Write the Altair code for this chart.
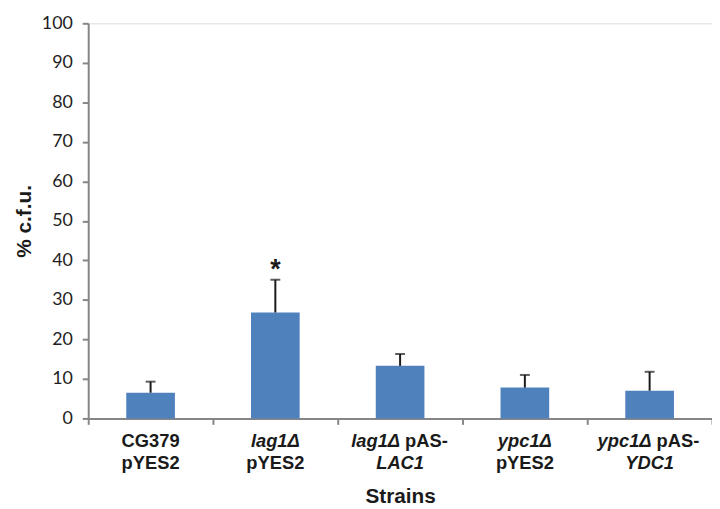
import altair as alt
import pandas as pd

# ---- data ----
categories = ["CG379 pYES2", "lag1Δ pYES2", "lag1Δ pAS-LAC1", "ypc1Δ pYES2", "ypc1Δ pAS-YDC1"]
means = [6.5, 26.8, 13.3, 7.8, 7.0]
errors = [2.8, 8.3, 3.0, 3.2, 4.8]
significance = ["", "*", "", "", ""]

# tick-label segments (category index, row, text, italic, align, dx)
seg_cat = [0, 0, 1, 1, 2, 2, 2, 3, 3, 4, 4, 4]
seg_row = [1, 2, 1, 2, 1, 1, 2, 1, 2, 1, 1, 2]
seg_text = ["CG379", "pYES2", "lag1Δ", "pYES2", "lag1Δ", "pAS-", "LAC1",
            "ypc1Δ", "pYES2", "ypc1Δ", "pAS-", "YDC1"]
seg_italic = [False, False, True, False, True, False, True,
              True, False, True, False, True]
seg_align = ["center", "center", "center", "center", "right", "left", "center",
             "center", "center", "right", "left", "center"]
seg_dx = [0, 0, 0, 0, 0, 5, 0, 0, 0, 2, 7, 0]

y_ticks = list(range(0, 101, 10))

BLUE = "#4f81bd"
GRAY = "#868686"
W, H = 630, 399
ROW_Y = {1: 428, 2: 450}

df = pd.DataFrame({
    "strain": categories,
    "mean": means,
    "err": errors,
    "sig": significance,
})
df["upper"] = df["mean"] + df["err"]

seg = pd.DataFrame({
    "strain": [categories[i] for i in seg_cat],
    "row": seg_row,
    "text": seg_text,
    "italic": seg_italic,
    "align": seg_align,
    "dx": seg_dx,
})

x_enc = alt.X(
    "strain:N",
    sort=categories,
    scale=alt.Scale(paddingInner=0, paddingOuter=0),
    axis=alt.Axis(
        title="Strains",
        labels=False,
        tickBand="extent",
        titleFontSize=21,
        titleBaseline="alphabetic",
        titleY=85,
    ),
)

y_scale = alt.Scale(domain=[0, 100], nice=False)
y_axis = alt.Axis(
    title="% c.f.u.",
    values=y_ticks,
    tickCount=11,
    labelPadding=10,
    titleFontSize=21,
    titlePadding=7,
)

bars = alt.Chart(df).mark_bar(color=BLUE, width=alt.RelativeBandSize(0.39)).encode(
    x=x_enc,
    y=alt.Y("mean:Q", scale=y_scale, axis=y_axis),
)

err_line = alt.Chart(df).mark_rule(color="#1a1a1a", strokeWidth=2).encode(
    x=alt.X("strain:N", sort=categories),
    y=alt.Y("mean:Q", scale=y_scale, axis=y_axis),
    y2="upper:Q",
)

err_cap = alt.Chart(df).mark_tick(color="#1a1a1a", thickness=2, size=10).encode(
    x=alt.X("strain:N", sort=categories),
    y=alt.Y("upper:Q", scale=y_scale, axis=y_axis),
)

star = alt.Chart(df).transform_filter("datum.sig != ''").mark_text(
    font="Liberation Sans", fontWeight="bold", fontSize=27, color="#1a1a1a",
    baseline="alphabetic", dy=-2,
).encode(
    x=alt.X("strain:N", sort=categories),
    y=alt.Y("upper:Q", scale=y_scale, axis=y_axis),
    text="sig:N",
)

layers = [bars, err_line, err_cap, star]

groups = seg.groupby(["row", "italic", "align", "dx"])
for (row, italic, align, dx), _ in groups:
    flt = (
        f"datum.row == {row} && datum.italic == {str(italic).lower()} "
        f"&& datum.align == '{align}' && datum.dx == {dx}"
    )
    layers.append(
        alt.Chart(seg).transform_filter(flt).mark_text(
            font="Liberation Sans",
            fontWeight="bold",
            fontStyle="italic" if italic else "normal",
            fontSize=18.5,
            color="#1a1a1a",
            align=align,
            dx=int(dx),
            baseline="alphabetic",
        ).encode(
            x=alt.X("strain:N", sort=categories),
            y=alt.value(ROW_Y[int(row)]),
            text="text:N",
        )
    )

chart = alt.layer(*layers).properties(
    width=W,
    height=H,
    autosize=alt.AutoSizeParams(type="none"),
    padding={"left": 81, "top": 13, "right": 0, "bottom": 88},
).configure_view(stroke=None).configure(background="white").configure_axis(
    grid=False,
    domainColor=GRAY,
    domainWidth=2,
    tickColor=GRAY,
    tickWidth=2,
    tickSize=6,
    labelFont="Lato",
    labelFontSize=18,
    labelColor="#1e1e1e",
    titleFont="Liberation Sans",
    titleFontWeight="bold",
    titleColor="#1a1a1a",
)

chart.save("out.html", embed_options={"renderer": "svg", "actions": False})
